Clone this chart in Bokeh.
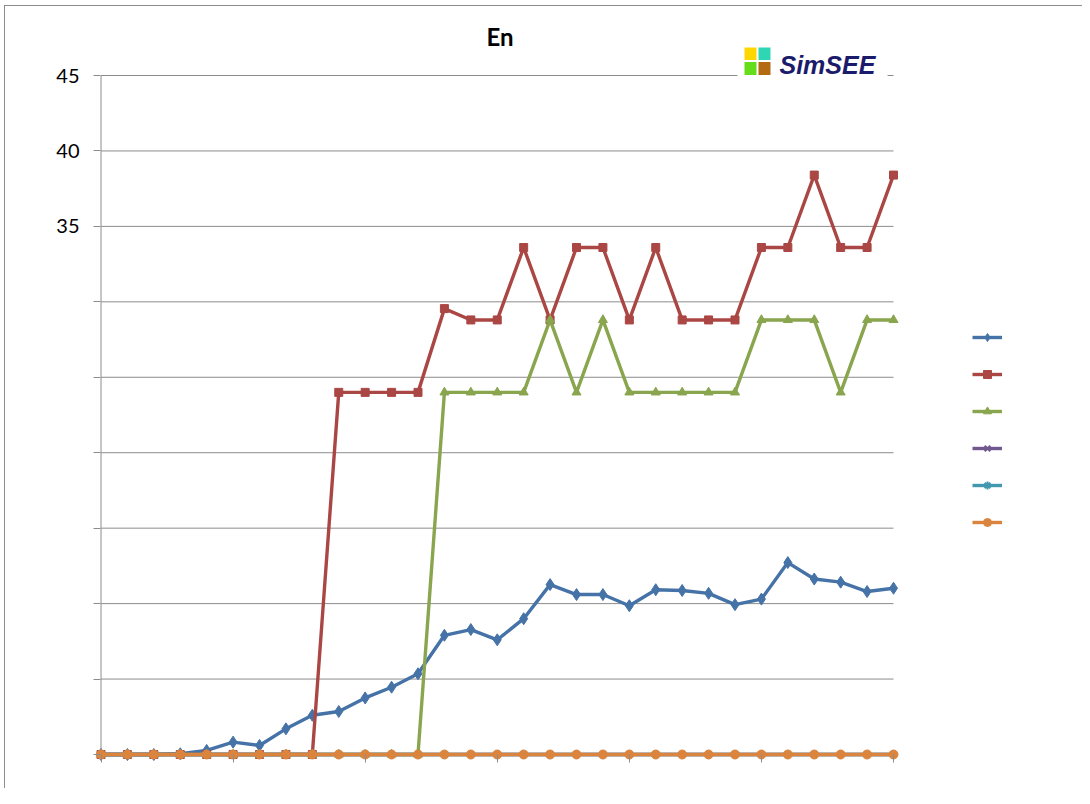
from bokeh.plotting import figure
from bokeh.models import FixedTicker, Legend, LegendItem, Range1d
from bokeh.core.properties import value
from bokeh.embed import file_html
from bokeh.resources import INLINE

# ---------------- data ----------------
periods = list(range(31))
serie_1 = [0, 0, 0, 0.05, 0.27, 0.82, 0.6, 1.7, 2.6, 2.85, 3.75, 4.46, 5.35,
           7.9, 8.28, 7.6, 9.0, 11.26, 10.6, 10.6, 9.86, 10.92, 10.87, 10.68,
           9.93, 10.3, 12.72, 11.63, 11.42, 10.8, 11.02]
serie_2 = [0, 0, 0, 0, 0, 0, 0, 0, 0, 24.0, 24.0, 24.0, 24.0,
           29.55, 28.8, 28.8, 33.6, 28.8, 33.6, 33.6, 28.8, 33.6, 28.8, 28.8,
           28.8, 33.6, 33.6, 38.4, 33.6, 33.6, 38.4]
serie_3 = [0, 0, 0, 0, 0, 0, 0, 0, 0, 0, 0, 0, 0,
           24.0, 24.0, 24.0, 24.0, 28.8, 24.0, 28.8, 24.0, 24.0, 24.0, 24.0,
           24.0, 28.8, 28.8, 28.8, 24.0, 28.8, 28.8]
serie_4 = [0] * 31
serie_5 = [0] * 31
serie_6 = [0] * 31

y_ticks = [0, 5, 10, 15, 20, 25, 30, 35, 40, 45]
y_tick_labels = ["", "", "", "", "", "", "", "35", "40", "45"]
x_ticks = [0, 5, 10, 15, 20, 25, 30]
title_text = "En"
logo_text = "SimSEE"

colors = ["#4572A7", "#AA4643", "#89A54E", "#71588F", "#4198AF", "#DB843D"]
markers = ["diamond", "square", "triangle", "x", "asterisk", "circle"]
msizes = [12, 8, 9, 8, 8, 9]

# ---------------- geometry (picture pixels) ----------------
PAGE = 0
W, H = 1082, 788
X0_PX, X30_PX = 100.5, 893.0
Y0_PX, Y45_PX = 754.0, 75.0
XS = (X30_PX - X0_PX) / 30.0
YS = (Y0_PX - Y45_PX) / 45.0
FL, FR, FT, FB = 93, 1040, 20, 762
GRID = "#8c8c8c"


def px_x(px):
    return (px - X0_PX) / XS


def px_y(py):
    return (Y0_PX - py) / YS


p = figure(width=W, height=H, output_backend="svg", toolbar_location=None,
           x_range=Range1d(px_x(FL), px_x(FR)),
           y_range=Range1d(px_y(FB), px_y(FT)),
           min_border_left=FL - PAGE, min_border_right=W - (FR - PAGE),
           min_border_top=FT - PAGE, min_border_bottom=H - (FB - PAGE))
p.outline_line_color = None
p.xgrid.visible = False
p.ygrid.visible = False
p.background_fill_color = "white"
p.border_fill_alpha = 0
# outer frame of the original picture (left and top edges)
p.styles = {
    "background-color": "white",
    "background-image": f"linear-gradient({GRID}, {GRID}), linear-gradient({GRID}, {GRID})",
    "background-size": "1px 100%, 100% 1px",
    "background-position": "4px 5px, 4px 5px",
    "background-repeat": "no-repeat",
}

# y axis
p.yaxis.ticker = FixedTicker(ticks=y_ticks)
p.yaxis.major_label_overrides = {t: l for t, l in zip(y_ticks, y_tick_labels)}
p.yaxis.axis_line_color = None
p.yaxis.major_tick_in = 7
p.yaxis.major_tick_out = 0
p.yaxis.major_tick_line_color = GRID
p.yaxis.minor_tick_line_color = None
p.yaxis.major_label_standoff = 14
p.yaxis.major_label_text_font = "Lato"
p.yaxis.major_label_text_font_size = "20px"
p.yaxis.major_label_text_color = "#000000"

# x axis
p.xaxis.ticker = FixedTicker(ticks=x_ticks)
p.xaxis.major_label_overrides = {t: "" for t in x_ticks}
p.xaxis.axis_line_color = None
p.xaxis.major_tick_in = 8
p.xaxis.major_tick_out = 0
p.xaxis.major_tick_line_color = GRID
p.xaxis.minor_tick_line_color = None

# gridlines and axis lines
grid_vals = y_ticks[1:]
p.segment(x0=[periods[0]] * len(grid_vals), x1=[periods[-1]] * len(grid_vals),
          y0=grid_vals, y1=grid_vals, line_color=GRID, line_width=1)
p.segment(x0=[periods[0]], x1=[periods[0]], y0=[y_ticks[0]], y1=[y_ticks[-1]],
          line_color=GRID, line_width=1)
p.segment(x0=[periods[0]], x1=[periods[-1]], y0=[y_ticks[0]], y1=[y_ticks[0]],
          line_color=GRID, line_width=1)

# series
items = []
for vals, c, m, s in zip([serie_1, serie_2, serie_3, serie_4, serie_5, serie_6],
                         colors, markers, msizes):
    ln = p.line(periods, vals, line_color=c, line_width=3.4)
    sc = p.scatter(periods, vals, marker=m, size=s, fill_color=c, line_color=c,
                   line_width=2 if m in ("x", "asterisk") else 1)
    items.append(LegendItem(label=" ", renderers=[ln, sc]))

legend = Legend(items=items, location=(972 - FL, FB - 532),
                glyph_width=30, glyph_height=20, label_height=20, spacing=17,
                padding=0, margin=0, border_line_color=None,
                background_fill_alpha=0, label_standoff=0,
                label_text_font_size="1px", label_width=1)
p.add_layout(legend)

# title (clipped in the original)
p.text(x=[px_x(486)], y=[px_y(36)], text=[title_text],
       text_font=value("Lato"), text_font_style="bold", text_font_size="24px",
       text_align="left", text_baseline="middle", text_color="#000000")

# SimSEE logo
p.quad(left=[px_x(737)], right=[px_x(887)], top=[px_y(44)], bottom=[px_y(80)],
       fill_color="white", line_color=None)
p.quad(left=[px_x(744), px_x(758), px_x(744), px_x(758)],
       right=[px_x(756), px_x(770), px_x(756), px_x(770)],
       top=[px_y(47), px_y(47), px_y(61.5), px_y(61.5)],
       bottom=[px_y(59.5), px_y(59.5), px_y(74.5), px_y(74.5)],
       fill_color=["#FFD700", "#2ED6B4", "#66DD1A", "#B36A12"], line_color=None)
p.text(x=[px_x(779)], y=[px_y(64)], text=[logo_text],
       text_font=value("Liberation Sans"), text_font_style="bold italic",
       text_font_size="25px", text_align="left", text_baseline="middle",
       text_color="#1B1B6B")

open("out.html", "w").write(file_html(p, INLINE))
